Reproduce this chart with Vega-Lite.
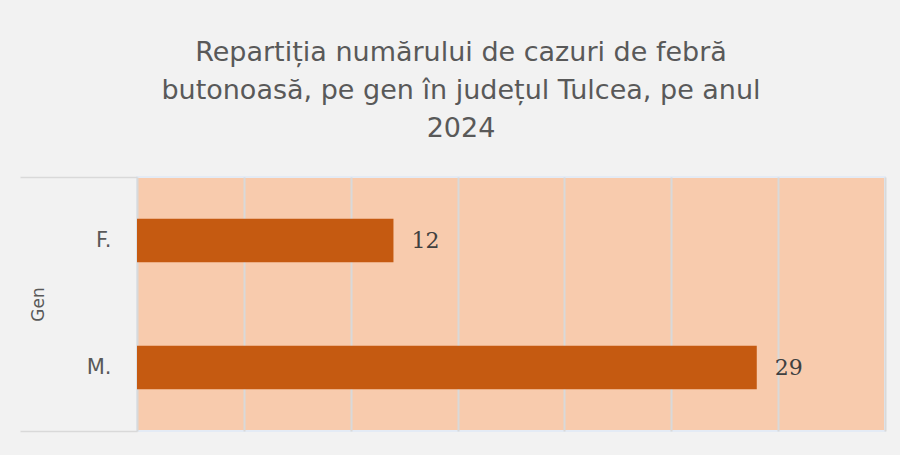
{
  "$schema": "https://vega.github.io/schema/vega-lite/v6.json",
  "autosize": {"type": "none"},
  "width": 748,
  "height": 254,
  "padding": {"left": 137, "top": 177, "right": 15, "bottom": 24},
  "background": "#f2f2f2",
  "config": {
    "view": {"fill": "#f8cbad", "stroke": "#e4ebf5", "strokeWidth": 2}
  },
  "title": {
    "text": ["Repartiția numărului de cazuri de febră", "butonoasă, pe gen în județul Tulcea, pe anul", "2024"],
    "font": "DejaVu Sans",
    "fontSize": 27,
    "fontWeight": "normal",
    "color": "#595959",
    "lineHeight": 38,
    "anchor": "middle",
    "dx": -50,
    "offset": 33
  },
  "data": {
    "values": [
      {"Gen": "F.", "cazuri": 12, "grup": "Gen"},
      {"Gen": "M.", "cazuri": 29, "grup": "Gen"}
    ]
  },
  "layer": [
    {
      "encoding": {
        "y": {
          "field": "Gen",
          "type": "nominal",
          "sort": ["F.", "M."],
          "scale": {"paddingInner": 0.656, "paddingOuter": 0.328},
          "axis": {
            "orient": "left",
            "ticks": false,
            "domain": false,
            "labelFont": "DejaVu Sans",
            "labelFontSize": 21,
            "labelColor": "#595959",
            "labelPadding": 26,
            "title": "Gen",
            "titleFont": "DejaVu Sans",
            "titleFontSize": 17,
            "titleFontWeight": "normal",
            "titleColor": "#595959",
            "titleX": -99,
            "titleY": 127,
            "titleAngle": -90,
            "titleBaseline": "middle",
            "titleAlign": "center"
          }
        },
        "x": {
          "field": "cazuri",
          "type": "quantitative",
          "scale": {"domain": [0, 35], "nice": false},
          "axis": {
            "labels": false,
            "ticks": false,
            "domain": false,
            "title": null,
            "values": [0, 5, 10, 15, 20, 25, 30, 35],
            "grid": true,
            "gridColor": "#d9d9d9",
            "gridWidth": 2
          }
        }
      },
      "layer": [
        {"mark": {"type": "bar", "color": "#c55a11"}},
        {
          "mark": {"type": "text", "align": "left", "baseline": "middle", "dx": 18, "font": "DejaVu Serif", "fontSize": 22, "color": "#404040"},
          "encoding": {"text": {"field": "cazuri", "type": "quantitative"}}
        }
      ]
    },
    {
      "mark": {"type": "rule", "strokeOpacity": 0},
      "encoding": {
        "y": {
          "field": "grup",
          "type": "nominal",
          "scale": {"paddingInner": 0, "paddingOuter": 0},
          "axis": {
            "orient": "left",
            "labels": false,
            "domain": false,
            "title": null,
            "ticks": true,
            "tickBand": "extent",
            "tickSize": 117,
            "tickColor": "#d9d9d9",
            "tickWidth": 1.5,
            "grid": false
          }
        }
      }
    }
  ],
  "resolve": {"scale": {"y": "independent"}, "axis": {"y": "independent"}}
}
